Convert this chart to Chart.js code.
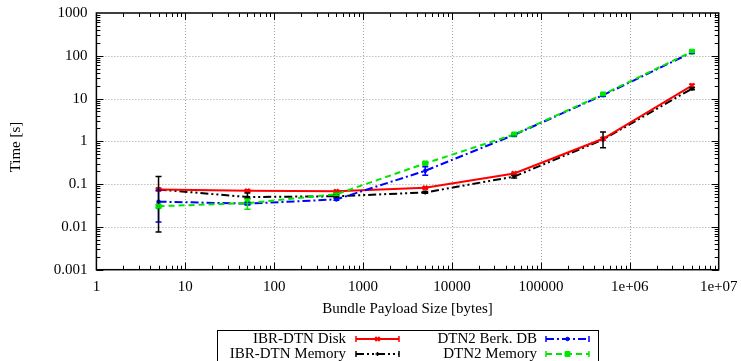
<!DOCTYPE html>
<html>
<head>
    <title>Bundle Payload Size vs Time</title>
    <script src="https://cdn.jsdelivr.net/npm/chart.js"></script>
    <style>
        html, body { margin: 0; padding: 0; background: #fff; }
        #wrap { width: 741px; height: 361px; }
    </style>
</head>
<body>
    <div id="wrap"><canvas id="timeChart" width="741" height="361"></canvas></div>

    <script>
        // payload sizes (bytes)
        const sizes = [5, 50, 500, 5000, 50000, 500000, 5000000];

        // IBR-DTN Disk
        const diskTime = [0.075, 0.07, 0.068, 0.082, 0.178, 1.15, 20];
        const diskLow  = [0.07, 0.066, 0.065, 0.078, 0.17, 1.08, 18.5];
        const diskHigh = [0.08, 0.074, 0.071, 0.086, 0.186, 1.22, 21.5];

        // IBR-DTN Memory
        const memTime = [0.075, 0.05, 0.052, 0.064, 0.15, 1.1, 17];
        const memLow  = [0.0076, 0.046, 0.05, 0.061, 0.14, 0.71, 16];
        const memHigh = [0.15, 0.062, 0.056, 0.067, 0.16, 1.65, 18];

        // DTN2 Berk. DB
        const berkTime = [0.039, 0.035, 0.044, 0.205, 1.42, 12, 120];
        const berkLow  = [0.013, 0.033, 0.042, 0.162, 1.36, 11.5, 116];
        const berkHigh = [0.072, 0.037, 0.047, 0.255, 1.48, 12.5, 124];

        // DTN2 Memory
        const dtnMemTime = [0.0305, 0.036, 0.058, 0.305, 1.45, 12.5, 125];
        const dtnMemLow  = [0.028, 0.026, 0.055, 0.29, 1.4, 12, 121];
        const dtnMemHigh = [0.033, 0.045, 0.061, 0.32, 1.5, 13, 129];

        const xTickValues = [1, 10, 100, 1000, 10000, 100000, 1000000, 10000000];
        const xTickLabels = ['1', '10', '100', '1000', '10000', '100000', '1e+06', '1e+07'];
        const yTickValues = [0.001, 0.01, 0.1, 1, 10, 100, 1000];
        const yTickLabels = ['0.001', '0.01', '0.1', '1', '10', '100', '1000'];

        const toPoints = (ys) => sizes.map((x, i) => ({ x: x, y: ys[i] }));

        Chart.defaults.font.family = '"Liberation Serif", "DejaVu Serif", serif';
        Chart.defaults.font.size = 15;
        Chart.defaults.color = '#000';

        // grid, frame, inward ticks, error bars, titles and legend (gnuplot look)
        const gnuplotLook = {
            id: 'gnuplotLook',
            beforeDatasetsDraw(chart) {
                const ctx = chart.ctx, a = chart.chartArea;
                const xs = chart.scales.x, ys = chart.scales.y;
                ctx.save();
                ctx.strokeStyle = '#a0a0a0';
                ctx.lineWidth = 1;
                ctx.setLineDash([1, 2]);
                xTickValues.slice(1, -1).forEach(v => {
                    const px = Math.round(xs.getPixelForValue(v)) + 0.5;
                    ctx.beginPath(); ctx.moveTo(px, a.top); ctx.lineTo(px, a.bottom); ctx.stroke();
                });
                yTickValues.slice(1, -1).forEach(v => {
                    const py = Math.round(ys.getPixelForValue(v)) + 0.5;
                    ctx.beginPath(); ctx.moveTo(a.left, py); ctx.lineTo(a.right, py); ctx.stroke();
                });
                ctx.restore();
            },
            afterDatasetsDraw(chart) {
                const ctx = chart.ctx, a = chart.chartArea;
                const xs = chart.scales.x, ys = chart.scales.y;
                ctx.save();
                // error bars
                chart.data.datasets.forEach(ds => {
                    ctx.strokeStyle = ds.borderColor;
                    ctx.lineWidth = 1.5;
                    ctx.setLineDash([]);
                    sizes.forEach((s, i) => {
                        const px = xs.getPixelForValue(s);
                        const lo = ys.getPixelForValue(ds.errLow[i]);
                        const hi = ys.getPixelForValue(ds.errHigh[i]);
                        ctx.beginPath();
                        ctx.moveTo(px, lo); ctx.lineTo(px, hi);
                        ctx.moveTo(px - 3, lo); ctx.lineTo(px + 3, lo);
                        ctx.moveTo(px - 3, hi); ctx.lineTo(px + 3, hi);
                        ctx.stroke();
                    });
                });
                // frame
                ctx.strokeStyle = '#000';
                ctx.lineWidth = 1.5;
                ctx.strokeRect(a.left, a.top, a.right - a.left, a.bottom - a.top);
                // inward ticks
                ctx.lineWidth = 1;
                for (let d = 0; d < 7; d++) {
                    for (let m = 1; m < 10; m++) {
                        const v = Math.pow(10, d) * m;
                        const px = Math.round(xs.getPixelForValue(v)) + 0.5;
                        const len = m === 1 ? 7 : 4;
                        ctx.beginPath();
                        ctx.moveTo(px, a.bottom); ctx.lineTo(px, a.bottom - len);
                        ctx.moveTo(px, a.top); ctx.lineTo(px, a.top + len);
                        ctx.stroke();
                    }
                }
                for (let d = -3; d < 3; d++) {
                    for (let m = 1; m < 10; m++) {
                        const v = Math.pow(10, d) * m;
                        const py = Math.round(ys.getPixelForValue(v)) + 0.5;
                        const len = m === 1 ? 7 : 4;
                        ctx.beginPath();
                        ctx.moveTo(a.left, py); ctx.lineTo(a.left + len, py);
                        ctx.moveTo(a.right, py); ctx.lineTo(a.right - len, py);
                        ctx.stroke();
                    }
                }
                ctx.restore();
            },
            afterDraw(chart) {
                const ctx = chart.ctx, a = chart.chartArea;
                ctx.save();
                ctx.fillStyle = '#000';
                ctx.font = '15px "Liberation Serif", serif';
                ctx.textBaseline = 'middle';
                ctx.textAlign = 'center';
                ctx.fillText('Bundle Payload Size [bytes]', (a.left + a.right) / 2, 309);
                ctx.save();
                ctx.translate(16, 147);
                ctx.rotate(-Math.PI / 2);
                ctx.fillText('Time [s]', 0, 0);
                ctx.restore();

                // legend box
                ctx.strokeStyle = '#000';
                ctx.lineWidth = 1;
                ctx.strokeRect(217.5, 330.5, 381, 40);
                const cols = [{ tx: 346, sx: 356 }, { tx: 537, sx: 546 }];
                const rows = [339, 354];
                chart.data.datasets.forEach((ds, i) => {
                    const col = [0, 1, 0, 1][i], row = [0, 0, 1, 1][i];
                    const cc = cols[col], ry = rows[row];
                    ctx.textAlign = 'right';
                    ctx.fillStyle = '#000';
                    ctx.fillText(ds.label, cc.tx, ry);
                    const x0 = cc.sx, x1 = cc.sx + 43;
                    ctx.strokeStyle = ds.borderColor;
                    ctx.lineWidth = 2;
                    ctx.setLineDash(ds.borderDash || []);
                    ctx.beginPath(); ctx.moveTo(x0, ry); ctx.lineTo(x1, ry); ctx.stroke();
                    ctx.setLineDash([]);
                    ctx.lineWidth = 1.5;
                    ctx.beginPath();
                    ctx.moveTo(x0, ry - 3); ctx.lineTo(x0, ry + 3);
                    ctx.moveTo(x1, ry - 3); ctx.lineTo(x1, ry + 3);
                    ctx.stroke();
                    ctx.fillStyle = ds.pointBackgroundColor;
                    ctx.strokeStyle = ds.borderColor;
                    ctx.lineWidth = ds.pointBorderWidth;
                    Chart.helpers.drawPoint(ctx, {
                        pointStyle: ds.pointStyle, radius: ds.pointRadius,
                        borderWidth: ds.pointBorderWidth, rotation: 0
                    }, (x0 + x1) / 2, ry);
                });
                ctx.restore();
            }
        };

        const timeData = {
            datasets: [{
                label: 'IBR-DTN Disk',
                data: toPoints(diskTime),
                errLow: diskLow, errHigh: diskHigh,
                borderColor: 'rgb(255, 0, 0)',
                backgroundColor: 'rgb(255, 0, 0)',
                pointBackgroundColor: 'rgb(255, 0, 0)',
                borderWidth: 2,
                pointStyle: 'crossRot', pointRadius: 3, pointBorderWidth: 2,
                order: 2
            }, {
                label: 'DTN2 Berk. DB',
                data: toPoints(berkTime),
                errLow: berkLow, errHigh: berkHigh,
                borderColor: 'rgb(0, 0, 255)',
                backgroundColor: 'rgb(0, 0, 255)',
                pointBackgroundColor: 'rgb(0, 0, 255)',
                borderWidth: 2,
                borderDash: [8, 3, 2, 3],
                pointStyle: 'circle', pointRadius: 1.8, pointBorderWidth: 1,
                order: 1
            }, {
                label: 'IBR-DTN Memory',
                data: toPoints(memTime),
                errLow: memLow, errHigh: memHigh,
                borderColor: 'rgb(0, 0, 0)',
                backgroundColor: 'rgb(0, 0, 0)',
                pointBackgroundColor: 'rgb(0, 0, 0)',
                borderWidth: 2,
                borderDash: [8, 3, 2, 3, 2, 3],
                pointStyle: 'cross', pointRadius: 2, pointBorderWidth: 1.5,
                order: 3
            }, {
                label: 'DTN2 Memory',
                data: toPoints(dtnMemTime),
                errLow: dtnMemLow, errHigh: dtnMemHigh,
                borderColor: 'rgb(0, 230, 0)',
                backgroundColor: 'rgb(0, 230, 0)',
                pointBackgroundColor: 'rgb(0, 230, 0)',
                borderWidth: 2,
                borderDash: [6, 4],
                pointStyle: 'rect', pointRadius: 3.5, pointBorderWidth: 1,
                order: 0
            }]
        };

        const timeConfig = {
            type: 'scatter',
            data: timeData,
            plugins: [gnuplotLook],
            options: {
                responsive: false,
                animation: false,
                showLine: true,
                layout: { padding: { left: 0, right: 22.3, top: 13, bottom: 41.3 } },
                plugins: { legend: { display: false }, tooltip: { enabled: false } },
                elements: { line: { tension: 0 } },
                scales: {
                    x: {
                        type: 'logarithmic',
                        min: 1, max: 10000000,
                        grid: { display: false, drawTicks: false },
                        border: { display: false },
                        afterBuildTicks: (s) => { s.ticks = xTickValues.map(v => ({ value: v })); },
                        afterFit: (s) => { s.height = 50; s.paddingLeft = 0; s.paddingRight = 0; },
                        ticks: {
                            autoSkip: false, maxRotation: 0, padding: 8,
                            callback: (v) => xTickLabels[xTickValues.indexOf(v)]
                        }
                    },
                    y: {
                        type: 'logarithmic',
                        min: 0.001, max: 1000,
                        grid: { display: false, drawTicks: false },
                        border: { display: false },
                        afterBuildTicks: (s) => { s.ticks = yTickValues.map(v => ({ value: v })); },
                        afterFit: (s) => { s.width = 96.4; s.paddingTop = 0; s.paddingBottom = 0; },
                        ticks: {
                            autoSkip: false, padding: 9,
                            callback: (v) => yTickLabels[yTickValues.indexOf(v)]
                        }
                    }
                }
            }
        };

        const timeChart = new Chart(
            document.getElementById('timeChart'),
            timeConfig
        );
    </script>
</body>
</html>
